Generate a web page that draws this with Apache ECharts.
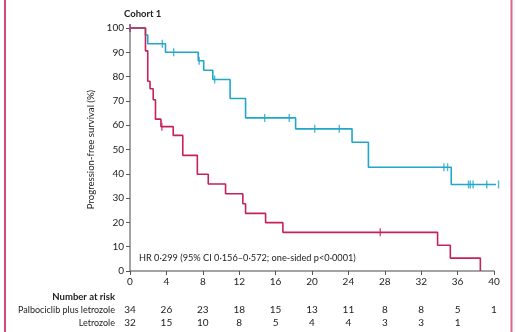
<!DOCTYPE html>
<html><head><meta charset="utf-8">
<script src="https://cdn.jsdelivr.net/npm/echarts@6/dist/echarts.min.js"></script>
<style>html,body{margin:0;padding:0;background:#fff}#c{width:516px;height:332px}</style>
</head><body><div id="c"></div>
<script>
// Kaplan-Meier steps [month, survival %]
const palboSteps = [[0,100],[1.7,97.1],[1.95,93.5],[3.9,90],[7.5,86.5],[8.1,82.6],[9.1,78.8],[11,71],[12.7,63],[18.2,58.5],[24.4,53],[26.2,42.7],[35.3,35.6],[40.9,35.6]];
const palboCensor = [[0,100],[3.55,93.5],[4.8,90],[7.6,86.5],[9.3,78.8],[14.8,63],[17.5,63],[20.3,58.5],[23.0,58.5],[34.5,42.7],[34.9,42.7],[37.2,35.6],[37.4,35.6],[37.7,35.6],[39.2,35.6],[40.5,35.6]];
const letroSteps = [[0,100],[1.7,90.6],[1.95,78.1],[2.2,75],[2.55,70.5],[2.8,62.5],[3.4,59.4],[4.75,55.8],[5.8,47.6],[7.4,39.8],[8.6,35.8],[10.5,31.8],[12.4,27.7],[12.7,23.7],[14.9,19.9],[16.8,15.9],[33.8,10.6],[35.2,5.3],[38.5,0]];
const letroCensor = [[0,100],[3.5,59.4],[27.5,15.9]];
const riskTimes = [0,4,8,12,16,20,24,28,32,36,40];
const palboRisk = [34,26,23,18,15,13,11,8,8,5,1];
const letroRisk = [32,15,10,8,5,4,4,3,3,1];
const rowLabels = ['Palbociclib plus letrozole','Letrozole'];

const FONT = 'Lato';
const blue = '#22a7c9', red = '#c42259', axisCol = '#858585', txt = '#222';
const chart = echarts.init(document.getElementById('c'));
chart.setOption({
  animation:false,
  textStyle:{fontFamily:FONT},
  grid:{left:130, right:22, top:28, bottom:61},
  xAxis:{type:'value', min:0, max:40, interval:4,
    axisLine:{lineStyle:{color:axisCol, width:1.5}},
    axisTick:{show:true, length:4, lineStyle:{color:'#555', width:1}},
    axisLabel:{color:txt, fontSize:10, margin:6, fontFamily:FONT},
    splitLine:{show:false}},
  yAxis:{type:'value', min:0, max:100, interval:10,
    name:'Progression-free survival (%)', nameLocation:'middle', nameRotate:90, nameGap:31,
    nameTextStyle:{color:txt, fontSize:9.6, fontFamily:FONT},
    axisLine:{show:true, lineStyle:{color:axisCol, width:1.5}},
    axisTick:{show:true, length:4, lineStyle:{color:'#555', width:1}},
    axisLabel:{color:txt, fontSize:10, margin:6, fontFamily:FONT},
    splitLine:{show:false}},
  series:[
    {type:'line', step:'end', data:palboSteps, showSymbol:false, clip:false, lineStyle:{color:blue, width:1.6}, z:3},
    {type:'line', step:'end', data:letroSteps, showSymbol:false, clip:false, lineStyle:{color:red, width:1.6}, z:3},
    {type:'scatter', data:palboCensor, symbol:'rect', symbolSize:[1.4,8], itemStyle:{color:blue}, clip:false, z:4},
    {type:'scatter', data:letroCensor, symbol:'rect', symbolSize:[1.4,8], itemStyle:{color:red}, clip:false, z:4}
  ]
});
const g = [];
g.push({type:'text', left:124, top:9, style:{text:'Cohort 1', font:'bold 9.5px '+FONT, fill:txt}});
g.push({type:'text', x:139, y:258, style:{text:'HR 0·299 (95% CI 0·156–0·572; one-sided p<0·0001)', font:'9.2px '+FONT, fill:txt, textVerticalAlign:'middle'}});
g.push({type:'text', x:115, y:297, style:{text:'Number at risk', font:'bold 9.5px '+FONT, fill:txt, textAlign:'right', textVerticalAlign:'middle'}});
g.push({type:'text', x:115, y:310, style:{text:rowLabels[0], font:'9px '+FONT, fill:txt, textAlign:'right', textVerticalAlign:'middle'}});
g.push({type:'text', x:115, y:323, style:{text:rowLabels[1], font:'9px '+FONT, fill:txt, textAlign:'right', textVerticalAlign:'middle'}});
riskTimes.forEach((t,i)=>{
  const px = chart.convertToPixel({xAxisIndex:0}, t);
  if (palboRisk[i]!==undefined) g.push({type:'text', x:px, y:310, style:{text:String(palboRisk[i]), font:'10px '+FONT, fill:txt, textAlign:'center', textVerticalAlign:'middle'}});
  if (letroRisk[i]!==undefined) g.push({type:'text', x:px, y:323, style:{text:String(letroRisk[i]), font:'10px '+FONT, fill:txt, textAlign:'center', textVerticalAlign:'middle'}});
});
g.push({type:'line', shape:{x1:5,y1:0,x2:5,y2:332}, style:{stroke:'#d64a76', lineWidth:2}});
g.push({type:'line', shape:{x1:511.5,y1:0,x2:511.5,y2:332}, style:{stroke:'#d8668a', lineWidth:2}});
chart.setOption({graphic:g});
</script></body></html>
